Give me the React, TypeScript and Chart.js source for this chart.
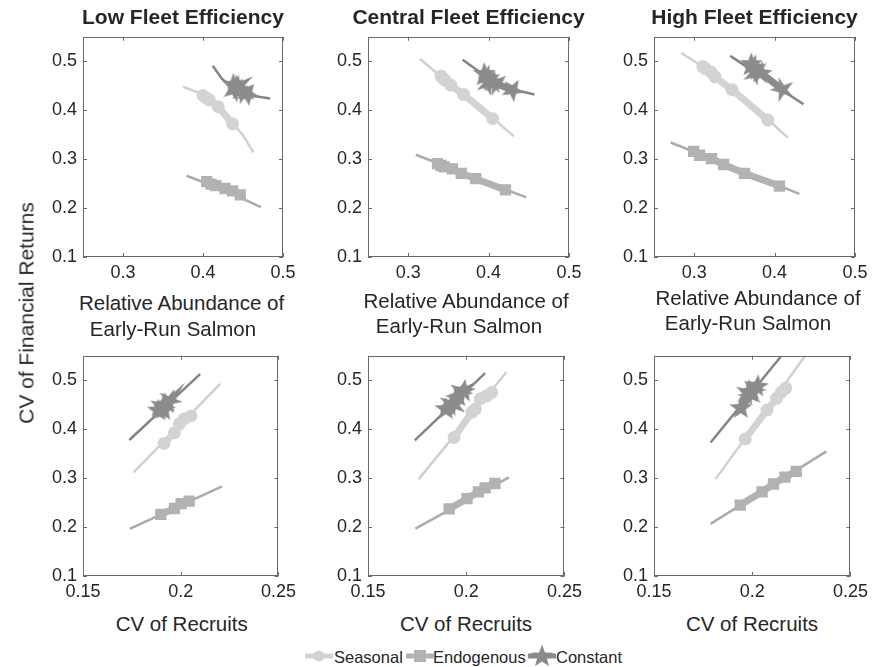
import React, { useEffect, useRef } from "react";
import { Chart, registerables } from "chart.js";
Chart.register(...registerables);

type P = [number, number];

// ---------- DATA ----------
const panelTitles = ["Low Fleet Efficiency", "Central Fleet Efficiency", "High Fleet Efficiency"];
const seriesNames = ["Seasonal", "Endogenous", "Constant"];
const yTicks = [0.1, 0.2, 0.3, 0.4, 0.5];
const xTicksAbundance = [0.3, 0.4, 0.5];
const xTicksRecruits = [0.15, 0.2, 0.25];
const yLabel = "CV of Financial Returns";
const xLabelAbundance = ["Relative Abundance of", "Early-Run Salmon"];
const xLabelRecruits = "CV of Recruits";

// Top row: x = relative abundance of early-run salmon
const lowSeasonalTrend: P[] = [[0.375, 0.448], [0.4005, 0.432], [0.419, 0.408], [0.437, 0.374], [0.4506, 0.3475], [0.463, 0.314]];
const lowSeasonalMarks: P[] = [[0.400, 0.430], [0.404, 0.425], [0.408, 0.421], [0.419, 0.407], [0.437, 0.372]];
const lowEndoTrend: P[] = [[0.3796, 0.266], [0.4256, 0.237], [0.4724, 0.202]];
const lowEndoMarks: P[] = [[0.4047, 0.254], [0.410, 0.249], [0.416, 0.246], [0.4276, 0.240], [0.437, 0.235], [0.4465, 0.227]];
const lowConstTrend: P[] = [[0.4122, 0.491], [0.4235, 0.4645], [0.4381, 0.4445], [0.4548, 0.431], [0.484, 0.424]];
const lowConstMarks: P[] = [[0.438, 0.452], [0.441, 0.447], [0.444, 0.449], [0.439, 0.441], [0.447, 0.441], [0.451, 0.437], [0.456, 0.433]];

const centralSeasonalTrend: P[] = [[0.3145, 0.505], [0.34, 0.47], [0.37, 0.432], [0.405, 0.384], [0.4314, 0.347]];
const centralSeasonalMarks: P[] = [[0.3407, 0.470], [0.343, 0.466], [0.346, 0.461], [0.353, 0.451], [0.369, 0.432], [0.405, 0.383]];
const centralEndoTrend: P[] = [[0.3095, 0.309], [0.4468, 0.222]];
const centralEndoMarks: P[] = [[0.3365, 0.291], [0.341, 0.287], [0.345, 0.284], [0.355, 0.280], [0.366, 0.271], [0.384, 0.260], [0.421, 0.237]];
const centralConstTrend: P[] = [[0.3677, 0.503], [0.3968, 0.469], [0.430, 0.4425], [0.457, 0.432]];
const centralConstMarks: P[] = [[0.3947, 0.474], [0.397, 0.468], [0.401, 0.462], [0.399, 0.455], [0.406, 0.457], [0.409, 0.455], [0.430, 0.441]];

const highSeasonalTrend: P[] = [[0.284, 0.517], [0.311, 0.489], [0.347, 0.442], [0.3916, 0.381], [0.4164, 0.344]];
const highSeasonalMarks: P[] = [[0.3108, 0.489], [0.314, 0.485], [0.321, 0.478], [0.326, 0.468], [0.347, 0.442], [0.3916, 0.380]];
const highEndoTrend: P[] = [[0.2707, 0.334], [0.4309, 0.229]];
const highEndoMarks: P[] = [[0.2993, 0.316], [0.3067, 0.308], [0.3216, 0.301], [0.3365, 0.289], [0.3626, 0.271], [0.406, 0.245]];
const highConstTrend: P[] = [[0.3448, 0.511], [0.4359, 0.412]];
const highConstMarks: P[] = [[0.371, 0.494], [0.373, 0.489], [0.377, 0.484], [0.375, 0.476], [0.383, 0.476], [0.410, 0.442]];

// Bottom row: x = CV of recruits
const lowSeasonalTrendR: P[] = [[0.1759, 0.3116], [0.2202, 0.4925]];
const lowSeasonalMarksR: P[] = [[0.1915, 0.371], [0.1968, 0.393], [0.1993, 0.411], [0.2018, 0.421], [0.2052, 0.427]];
const lowEndoTrendR: P[] = [[0.1739, 0.1965], [0.2211, 0.283]];
const lowEndoMarksR: P[] = [[0.1898, 0.226], [0.1968, 0.238], [0.2002, 0.248], [0.2043, 0.253]];
const lowConstTrendR: P[] = [[0.1737, 0.378], [0.2099, 0.5125]];
const lowConstMarksR: P[] = [[0.1885, 0.438], [0.190, 0.445], [0.1926, 0.452], [0.1943, 0.458], [0.1915, 0.440]];

const centralSeasonalTrendR: P[] = [[0.1758, 0.298], [0.2204, 0.5165]];
const centralSeasonalMarksR: P[] = [[0.1938, 0.383], [0.2029, 0.435], [0.2046, 0.441], [0.2071, 0.462], [0.2104, 0.468], [0.2129, 0.475]];
const centralEndoTrendR: P[] = [[0.1741, 0.197], [0.2217, 0.3016]];
const centralEndoMarksR: P[] = [[0.1913, 0.237], [0.2004, 0.258], [0.2062, 0.272], [0.2096, 0.280], [0.2146, 0.289]];
const centralConstTrendR: P[] = [[0.1738, 0.377], [0.2096, 0.5145]];
const centralConstMarksR: P[] = [[0.1896, 0.441], [0.1921, 0.451], [0.1954, 0.465], [0.1971, 0.475], [0.1988, 0.478], [0.1940, 0.450]];

const highSeasonalTrendR: P[] = [[0.1813, 0.298], [0.227, 0.55]];
const highSeasonalMarksR: P[] = [[0.1964, 0.380], [0.2075, 0.439], [0.2124, 0.463], [0.2149, 0.476], [0.2171, 0.484]];
const highEndoTrendR: P[] = [[0.1788, 0.2065], [0.2377, 0.3548]];
const highEndoMarksR: P[] = [[0.1939, 0.245], [0.205, 0.272], [0.2108, 0.288], [0.2166, 0.302], [0.2224, 0.314]];
const highConstTrendR: P[] = [[0.1788, 0.3728], [0.2149, 0.55]];
const highConstMarksR: P[] = [[0.1942, 0.443], [0.1975, 0.473], [0.1992, 0.478], [0.2008, 0.482], [0.2025, 0.488], [0.1990, 0.470]];

// ---------- STYLE ----------
const FONT = '"Liberation Sans", Arial, Helvetica, sans-serif';
const TEXT = "#262626";
const MARK = ["#d3d3d3", "#b2b2b4", "#8b8b8d"];
const TREND = ["#d0d0d0", "#ababad", "#848486"];

type PanelDef = {
  left: number; top: number; width: number; xRange: P; xTicks: number[];
  trends: P[][]; marks: P[][];
};

const panels: PanelDef[] = [
  { left: 83, top: 32, width: 200, xRange: [0.25, 0.5], xTicks: xTicksAbundance,
    trends: [lowSeasonalTrend, lowEndoTrend, lowConstTrend], marks: [lowSeasonalMarks, lowEndoMarks, lowConstMarks] },
  { left: 368, top: 32, width: 201, xRange: [0.25, 0.5], xTicks: xTicksAbundance,
    trends: [centralSeasonalTrend, centralEndoTrend, centralConstTrend], marks: [centralSeasonalMarks, centralEndoMarks, centralConstMarks] },
  { left: 654, top: 32, width: 201, xRange: [0.25, 0.5], xTicks: xTicksAbundance,
    trends: [highSeasonalTrend, highEndoTrend, highConstTrend], marks: [highSeasonalMarks, highEndoMarks, highConstMarks] },
  { left: 83, top: 351, width: 200, xRange: [0.15, 0.25], xTicks: xTicksRecruits,
    trends: [lowSeasonalTrendR, lowEndoTrendR, lowConstTrendR], marks: [lowSeasonalMarksR, lowEndoMarksR, lowConstMarksR] },
  { left: 368, top: 351, width: 201, xRange: [0.15, 0.25], xTicks: xTicksRecruits,
    trends: [centralSeasonalTrendR, centralEndoTrendR, centralConstTrendR], marks: [centralSeasonalMarksR, centralEndoMarksR, centralConstMarksR] },
  { left: 654, top: 351, width: 201, xRange: [0.15, 0.25], xTicks: xTicksRecruits,
    trends: [highSeasonalTrendR, highEndoTrendR, highConstTrendR], marks: [highSeasonalMarksR, highEndoMarksR, highConstMarksR] },
];

const PLOT_H = 225;
const PAD_L = 50, PAD_T = 12, PAD_R = 18, PAD_B = 32;

function makeStar(color: string, R: number, innerRatio: number) {
  const c = document.createElement("canvas");
  const s = Math.ceil(2 * R + 2);
  c.width = s; c.height = s;
  const g = c.getContext("2d")!;
  g.fillStyle = color;
  g.beginPath();
  for (let i = 0; i < 10; i++) {
    const r = i % 2 === 0 ? R : R * innerRatio;
    const a = -Math.PI / 2 + (i * Math.PI) / 5;
    const x = s / 2 + r * Math.cos(a), y = s / 2 + r * Math.sin(a);
    if (i === 0) g.moveTo(x, y); else g.lineTo(x, y);
  }
  g.closePath();
  g.fill();
  return c;
}

function starPath(cx: number, cy: number, R: number) {
  const pts: string[] = [];
  for (let i = 0; i < 10; i++) {
    const r = i % 2 === 0 ? R : R * 0.42;
    const a = -Math.PI / 2 + (i * Math.PI) / 5;
    pts.push(`${(cx + r * Math.cos(a)).toFixed(2)},${(cy + r * Math.sin(a)).toFixed(2)}`);
  }
  return pts.join(" ");
}

const boxPlugin = {
  id: "matlabBox",
  afterDraw(chart: any) {
    const { ctx, chartArea: a, scales } = chart;
    ctx.save();
    ctx.strokeStyle = "#6a6a6a";
    ctx.lineWidth = 1;
    ctx.strokeRect(Math.round(a.left) + 0.5, Math.round(a.top) + 0.5, Math.round(a.right - a.left) - 1, Math.round(a.bottom - a.top) - 1);
    const tl = 4;
    ctx.beginPath();
    scales.x.ticks.forEach((t: any) => {
      const px = Math.round(scales.x.getPixelForValue(t.value)) + 0.5;
      ctx.moveTo(px, a.bottom); ctx.lineTo(px, a.bottom - tl);
      ctx.moveTo(px, a.top); ctx.lineTo(px, a.top + tl);
    });
    scales.y.ticks.forEach((t: any) => {
      const py = Math.round(scales.y.getPixelForValue(t.value)) + 0.5;
      ctx.moveTo(a.left, py); ctx.lineTo(a.left + tl, py);
      ctx.moveTo(a.right, py); ctx.lineTo(a.right - tl, py);
    });
    ctx.stroke();
    ctx.restore();
  },
};

const STAR_ROT = [0, 14, -10, 22, 6, -18, 30];

function Panel({ def }: { def: PanelDef }) {
  const ref = useRef<HTMLCanvasElement>(null);
  const W = PAD_L + def.width + PAD_R;
  const H = PAD_T + PLOT_H + PAD_B;
  useEffect(() => {
    if (!ref.current) return;
    const starA = makeStar(MARK[2], 12, 0.42);
    const starB = makeStar(MARK[2], 13, 0.36);
    const datasets: any[] = [];
    def.trends.forEach((d, i) => {
      datasets.push({
        label: seriesNames[i] + " trend",
        data: d.map(([x, y]) => ({ x, y })),
        showLine: true, borderColor: TREND[i], borderWidth: 2.5, pointRadius: 0,
        clip: 0, order: 10 + i,
      });
    });
    def.marks.forEach((d, i) => {
      datasets.push({
        label: seriesNames[i],
        data: d.map(([x, y]) => ({ x, y })),
        showLine: true, borderColor: MARK[i], borderWidth: 7,
        backgroundColor: MARK[i], pointBackgroundColor: MARK[i], pointBorderWidth: 0,
        pointStyle: i === 0 ? "circle" : i === 1 ? "rect" : (c: any) => (c.dataIndex % 2 === 0 ? starA : starB),
        pointRadius: i === 0 ? 6.5 : i === 1 ? 8 : 12,
        pointRotation: i === 2 ? (c: any) => STAR_ROT[c.dataIndex % STAR_ROT.length] : 0,
        clip: 0, order: 3 - i,
      });
    });
    const tickFont = { family: FONT, size: 18 };
    const chart = new Chart(ref.current, {
      type: "scatter",
      data: { datasets },
      plugins: [boxPlugin],
      options: {
        animation: false, responsive: false, devicePixelRatio: 1, events: [],
        layout: { padding: { left: 0, top: PAD_T, right: PAD_R, bottom: 0 } },
        plugins: { legend: { display: false }, tooltip: { enabled: false }, title: { display: false } },
        scales: {
          x: {
            type: "linear", min: def.xRange[0], max: def.xRange[1],
            grid: { display: false, drawTicks: false }, border: { display: false },
            ticks: { font: tickFont, color: TEXT, padding: 5, maxRotation: 0, autoSkip: false, callback: (v: any) => String(v) },
            afterBuildTicks: (s: any) => { s.ticks = def.xTicks.map((v) => ({ value: v })); },
            afterFit: (s: any) => { s.height = PAD_B; },
          },
          y: {
            type: "linear", min: 0.1, max: 0.55,
            grid: { display: false, drawTicks: false }, border: { display: false },
            ticks: { font: tickFont, color: TEXT, padding: 6, autoSkip: false, callback: (v: any) => String(v) },
            afterBuildTicks: (s: any) => { s.ticks = yTicks.map((v) => ({ value: v })); },
            afterFit: (s: any) => { s.width = PAD_L; },
          },
        },
      } as any,
    });
    return () => chart.destroy();
  }, []);
  return (
    <canvas
      ref={ref}
      width={W}
      height={H}
      style={{ position: "absolute", left: def.left - PAD_L, top: def.top - PAD_T, width: W, height: H }}
    />
  );
}

const txt = (extra: React.CSSProperties): React.CSSProperties => ({
  position: "absolute", fontFamily: FONT, color: TEXT, lineHeight: 1, whiteSpace: "nowrap", ...extra,
});

function Centered({ cx, top, size, bold, children }: any) {
  return (
    <div style={txt({ left: cx - 200, width: 400, top, fontSize: size, fontWeight: bold ? 700 : 400, textAlign: "center" })}>
      {children}
    </div>
  );
}

export default function App() {
  const titleCenters = [183, 468.5, 754.5];
  const abLine1 = [{ cx: 181.5, top: 292.6 }, { cx: 466, top: 290.5 }, { cx: 758, top: 287.6 }];
  const abLine2 = [{ cx: 173, top: 318.6 }, { cx: 459, top: 316 }, { cx: 748, top: 312.6 }];
  const recruitCenters = [181.7, 466, 752];
  const legendItems = [
    { iconLeft: 305, textLeft: 334 },
    { iconLeft: 406, textLeft: 433 },
    { iconLeft: 528, textLeft: 556 },
  ];
  return (
    <div style={{ position: "absolute", left: 0, top: 0, width: 876, height: 667, background: "#fff", overflow: "hidden" }}>
      {panels.map((p, i) => <Panel key={i} def={p} />)}
      {panelTitles.map((t, i) => (
        <Centered key={"t" + i} cx={titleCenters[i]} top={6.2} size={21} bold>{t}</Centered>
      ))}
      {abLine1.map((p, i) => (
        <Centered key={"a1" + i} cx={p.cx} top={p.top} size={20.5}>{xLabelAbundance[0]}</Centered>
      ))}
      {abLine2.map((p, i) => (
        <Centered key={"a2" + i} cx={p.cx} top={p.top} size={20.5}>{xLabelAbundance[1]}</Centered>
      ))}
      {recruitCenters.map((cx, i) => (
        <Centered key={"r" + i} cx={cx} top={613.6} size={20.5}>{xLabelRecruits}</Centered>
      ))}
      <div style={txt({ left: 26, top: 312.5, fontSize: 21, transform: "translate(-50%, -50%) rotate(-90deg)" })}>
        {yLabel}
      </div>
      {legendItems.map((it, i) => (
        <React.Fragment key={"l" + i}>
          <svg style={{ position: "absolute", left: it.iconLeft, top: 642 }} width={28} height={28}>
            <line x1={0} y1={14} x2={28} y2={14} stroke={MARK[i]} strokeWidth={5} />
            {i === 0 && <circle cx={14} cy={14} r={5.5} fill={MARK[0]} />}
            {i === 1 && <rect x={8} y={8} width={12} height={12} fill={MARK[1]} />}
            {i === 2 && <polygon points={starPath(14, 14.5, 12)} fill={MARK[2]} />}
          </svg>
          <div style={txt({ left: it.textLeft, top: 649, fontSize: 16.5 })}>{seriesNames[i]}</div>
        </React.Fragment>
      ))}
    </div>
  );
}
